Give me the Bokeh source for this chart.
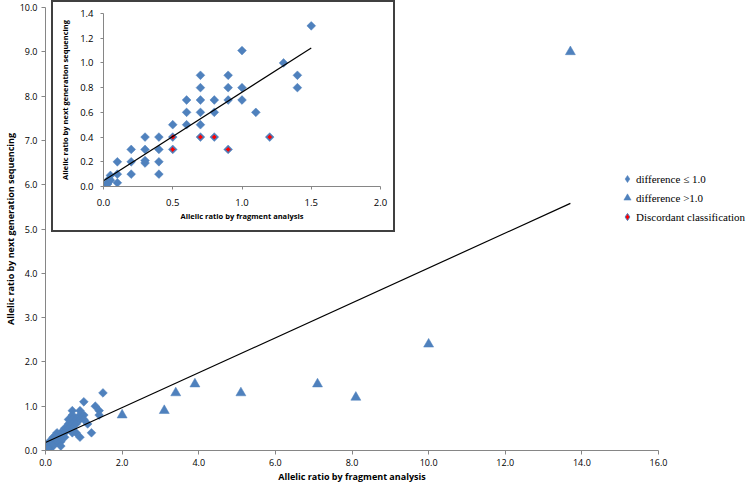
import math
from bokeh.plotting import figure
from bokeh.models import (Range1d, Legend, LegendItem, ColumnDataSource,
                          FixedTicker, PrintfTickFormatter)
from bokeh.embed import file_html
from bokeh.resources import INLINE

# ---------------- data ----------------
# difference <= 1.0 (diamonds)
dia_x = [1.5, 1.0, 1.3, 1.4, 1.4, 0.7, 0.9, 0.7, 0.9, 1.0,
         0.6, 0.7, 0.8, 0.9, 1.0, 0.6, 0.7, 0.8, 1.1, 0.5,
         0.6, 0.7, 0.3, 0.4, 0.5, 0.7, 0.8, 1.2, 0.2, 0.3,
         0.4, 0.5, 0.9, 0.1, 0.2, 0.3, 0.3, 0.4, 0.1, 0.2,
         0.4, 0.1, 0.05, 0.04, 0.02, 0.01, 0.03, 0.05]
dia_y = [1.3, 1.1, 1.0, 0.9, 0.8, 0.9, 0.9, 0.8, 0.8, 0.8,
         0.7, 0.7, 0.7, 0.7, 0.7, 0.6, 0.6, 0.6, 0.6, 0.5,
         0.5, 0.5, 0.4, 0.4, 0.4, 0.4, 0.4, 0.4, 0.3, 0.3,
         0.3, 0.3, 0.3, 0.2, 0.2, 0.21, 0.19, 0.2, 0.1, 0.1,
         0.1, 0.03, 0.09, 0.06, 0.02, 0.01, 0.02, 0.05]
# difference > 1.0 (triangles)
tri_x = [2.0, 3.1, 3.4, 3.9, 5.1, 7.1, 8.1, 10.0, 13.7]
tri_y = [0.8, 0.9, 1.3, 1.5, 1.3, 1.5, 1.2, 2.4, 9.0]
# discordant classification
disc_x = [0.5, 0.7, 0.8, 1.2, 0.5, 0.9]
disc_y = [0.4, 0.4, 0.4, 0.4, 0.3, 0.3]
# linear trend lines (slope, intercept) and x extent
main_slope, main_icpt = 0.394, 0.18
main_fit_x = [0.0, 13.7]
inset_slope, inset_icpt = 0.717, 0.046
inset_fit_x = [0.0, 1.5]
# ticks
main_xticks = [0, 2, 4, 6, 8, 10, 12, 14, 16]
main_yticks = [0, 1, 2, 3, 4, 5, 6, 7, 8, 9, 10]
inset_xticks = [0, 0.5, 1.0, 1.5, 2.0]
inset_yticks = [0, 0.2, 0.4, 0.6, 0.8, 1.0, 1.2, 1.4]
# legend labels
legend_labels = ["difference \u2264 1.0", "difference >1.0", "Discordant classification"]

BLUE = "#4F81BD"
RED = "#FF0000"
AXC = "#868686"
TICK_FONT = "Open Sans"
DIAMOND = dict(marker="square", angle=math.pi / 4)

main_fit_y = [main_slope * x + main_icpt for x in main_fit_x]
inset_fit_y = [inset_slope * x + inset_icpt for x in inset_fit_x]

dia_src = ColumnDataSource(dict(x=dia_x, y=dia_y))
tri_src = ColumnDataSource(dict(x=tri_x, y=tri_y))
disc_src = ColumnDataSource(dict(x=disc_x, y=disc_y))


def style_axes(fig, xticks, yticks, font_size, xstand, ystand, tick_out):
    for ax, ticks, st in ((fig.xaxis[0], xticks, xstand), (fig.yaxis[0], yticks, ystand)):
        ax.ticker = FixedTicker(ticks=ticks)
        ax.formatter = PrintfTickFormatter(format="%.1f")
        ax.axis_line_color = AXC
        ax.major_tick_line_color = AXC
        ax.minor_tick_line_color = None
        ax.major_tick_out = tick_out
        ax.major_tick_in = 0
        ax.major_label_text_font = TICK_FONT
        ax.major_label_text_font_size = font_size
        ax.major_label_text_color = "#000000"
        ax.major_label_standoff = st
        ax.axis_label_text_font = TICK_FONT
        ax.axis_label_text_font_style = "bold"
        ax.axis_label_text_color = "#000000"
    fig.grid.visible = False
    fig.outline_line_color = None


# ---------------- main plot ----------------
p = figure(width=749, height=485, x_range=Range1d(0, 16), y_range=Range1d(0, 10),
           output_backend="svg", toolbar_location=None,
           min_border_left=44, min_border_right=91, min_border_top=7, min_border_bottom=34)
p.styles = {"position": "absolute", "left": "0px", "top": "0px"}
style_axes(p, main_xticks, main_yticks, "9px", 4, 4, 4)
p.xaxis.axis_label = "Allelic ratio by fragment analysis"
p.yaxis.axis_label = "Allelic ratio by next generation sequencing"
p.xaxis.axis_label_text_font_size = "9px"
p.yaxis.axis_label_text_font_size = "9px"
p.xaxis.axis_label_standoff = 1
p.yaxis.axis_label_standoff = 0

p.scatter("x", "y", source=dia_src, size=6.2, fill_color=BLUE, line_color=BLUE,
          line_width=0.5, **DIAMOND)
p.scatter("x", "y", source=tri_src, marker="triangle", size=10,
          fill_color=BLUE, line_color=BLUE, line_width=0.5)
p.line(main_fit_x, main_fit_y, line_color="black", line_width=1.2)

# ---------------- inset ----------------
q = figure(width=344, height=232, x_range=Range1d(0, 2), y_range=Range1d(0, 1.4),
           output_backend="svg", toolbar_location=None,
           min_border_left=50, min_border_right=17, min_border_top=11, min_border_bottom=48)
q.styles = {"position": "absolute", "left": "51px", "top": "0px",
            "border": "2px solid #404040", "background-color": "white"}
style_axes(q, inset_xticks, inset_yticks, "9.5px", 9, 7, 3)
q.xaxis.axis_label = "Allelic ratio by fragment analysis"
q.yaxis.axis_label = "Allelic ratio by next generation sequencing"
q.xaxis.axis_label_text_font_size = "7.5px"
q.yaxis.axis_label_text_font_size = "7.5px"
q.xaxis.axis_label_standoff = 2
q.yaxis.axis_label_standoff = 7

q.scatter("x", "y", source=dia_src, size=6.2, fill_color=BLUE, line_color=BLUE,
          line_width=0.5, **DIAMOND)
q.scatter("x", "y", source=disc_src, size=4.2, fill_color=RED, line_color=BLUE,
          line_width=1.0, **DIAMOND)
q.line(inset_fit_x, inset_fit_y, line_color="black", line_width=1.2)

# ---------------- legend (own small canvas, same series) ----------------
lg = figure(width=131, height=60, x_range=Range1d(1000, 1001), y_range=Range1d(1000, 1001),
            output_backend="svg", toolbar_location=None,
            x_axis_location=None, y_axis_location=None,
            min_border_left=0, min_border_right=0, min_border_top=0, min_border_bottom=0)
lg.styles = {"position": "absolute", "left": "618px", "top": "169px"}
lg.grid.visible = False
lg.outline_line_color = None
lg.background_fill_alpha = 0
lg.border_fill_alpha = 0
l1 = lg.scatter("x", "y", source=dia_src, marker="diamond", size=8,
                fill_color=BLUE, line_color=BLUE, line_width=0.5)
l2 = lg.scatter("x", "y", source=tri_src, marker="triangle", size=8,
                fill_color=BLUE, line_color=BLUE, line_width=0.5)
l3 = lg.scatter("x", "y", source=disc_src, marker="diamond", size=8,
                fill_color=RED, line_color=BLUE, line_width=1.0)
legend = Legend(items=[LegendItem(label=legend_labels[0], renderers=[l1]),
                       LegendItem(label=legend_labels[1], renderers=[l2]),
                       LegendItem(label=legend_labels[2], renderers=[l3])],
                location="top_left", orientation="vertical",
                glyph_width=18, glyph_height=19, label_height=19, spacing=0,
                padding=0, margin=0, label_standoff=0,
                label_text_font="Liberation Serif", label_text_font_size="11px",
                label_text_color="#000000",
                border_line_color=None, background_fill_alpha=0)
lg.add_layout(legend, "center")

open("out.html", "w").write(file_html([p, q, lg], INLINE))
